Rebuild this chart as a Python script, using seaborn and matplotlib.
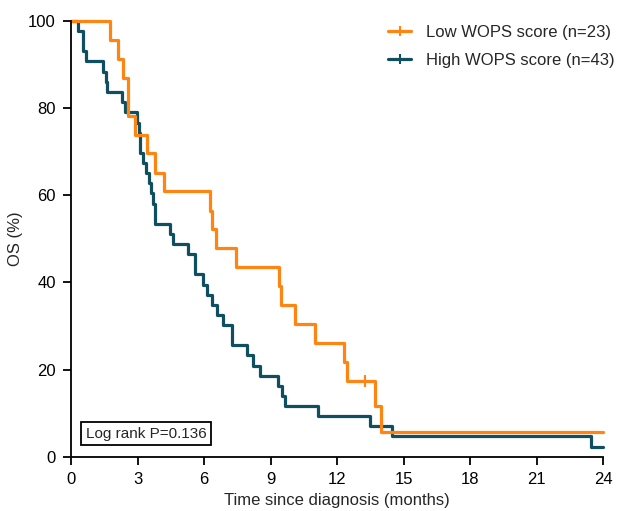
import matplotlib
matplotlib.use("Agg")
import matplotlib.pyplot as plt
import seaborn as sns
from matplotlib.lines import Line2D

# Kaplan-Meier curves (months, OS %)
low_t = [0, 1.76, 2.13, 2.36, 2.56, 2.89, 3.44, 3.79, 4.19, 6.27, 6.37, 6.52, 7.43,
         9.38, 9.45, 10.1, 11.0, 12.31, 12.43, 13.71, 13.97, 24]
low_s = [100, 95.7, 91.3, 87.0, 78.3, 73.9, 69.6, 65.2, 60.9, 56.5, 52.2, 47.8, 43.5,
         39.1, 34.8, 30.4, 26.1, 21.7, 17.4, 11.6, 5.8, 5.8]
low_cens_t = [13.26]
low_cens_s = [17.4]

high_t = [0, 0.33, 0.55, 0.68, 1.46, 1.56, 1.64, 2.31, 2.44, 2.96, 3.04, 3.11, 3.26,
          3.38, 3.5, 3.59, 3.68, 3.79, 4.47, 4.61, 5.29, 5.59, 5.97, 6.12, 6.35, 6.57,
          6.87, 7.25, 7.93, 8.2, 8.5, 9.35, 9.5, 9.65, 11.15, 13.49, 14.49, 23.45, 24]
high_s = [100, 97.7, 93.0, 90.7, 88.4, 86.0, 83.7, 81.4, 79.1, 76.7, 74.4, 69.8, 67.4,
          65.1, 62.8, 60.5, 58.1, 53.5, 51.2, 48.8, 46.5, 41.9, 39.5, 37.2, 34.9, 32.6,
          30.2, 25.6, 23.3, 20.9, 18.6, 16.3, 14.0, 11.6, 9.3, 7.0, 4.7, 2.3, 2.3]

labels = ["Low WOPS score (n=23)", "High WOPS score (n=43)"]
x_ticks = [0, 3, 6, 9, 12, 15, 18, 21, 24]
y_ticks = [0, 20, 40, 60, 80, 100]

orange = "#ff8412"
teal = "#0f4f5f"

sns.set_style("ticks")
plt.rcParams["font.family"] = ["Liberation Sans", "DejaVu Sans"]

fig = plt.figure(figsize=(6.35, 5.11), dpi=100)
ax = fig.add_axes([0.112, 0.106, 0.838, 0.853])

sns.lineplot(x=high_t, y=high_s, drawstyle="steps-post", estimator=None, sort=False,
             color=teal, lw=2.3, ax=ax, clip_on=False)
sns.lineplot(x=low_t, y=low_s, drawstyle="steps-post", estimator=None, sort=False,
             color=orange, lw=2.3, ax=ax, clip_on=False)
ax.plot(low_cens_t, low_cens_s, ls="none", marker="|", ms=8, mew=1.5, color=orange)

ax.set_xlim(0, 24)
ax.set_ylim(0, 100)
ax.set_xticks(x_ticks)
ax.set_yticks(y_ticks)
ax.tick_params(labelsize=12, length=6, width=1.3, pad=5, color="black", labelcolor="black")
for s in ["left", "bottom"]:
    ax.spines[s].set_linewidth(1.3)
    ax.spines[s].set_color("black")
sns.despine(ax=ax)

ax.set_xlabel("Time since diagnosis (months)", fontsize=12, labelpad=4)
ax.set_ylabel("OS (%)", fontsize=12, labelpad=4)

handles = [Line2D([], [], color=orange, lw=2.3, marker="|", ms=7, mew=1.5),
           Line2D([], [], color=teal, lw=2.3, marker="|", ms=7, mew=1.5)]
ax.legend(handles, labels, loc="upper right", bbox_to_anchor=(1.05, 1.025), frameon=False,
          fontsize=12, handlelength=1.4, handletextpad=0.9, labelspacing=0.75)

ax.text(0.028, 0.053, "Log rank P=0.136", transform=ax.transAxes, fontsize=11,
        va="center", ha="left",
        bbox=dict(boxstyle="square,pad=0.3", fc="white", ec="black", lw=1.3))

fig.savefig("out.png", dpi=100)
